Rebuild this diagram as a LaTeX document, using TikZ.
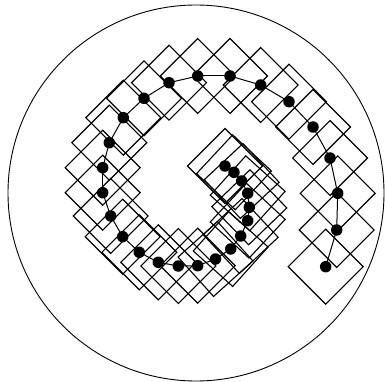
\documentclass[tikz,border=0pt]{standalone}
\begin{document}
\begin{tikzpicture}[x=1pt,y=-1pt,
  sq/.style={draw, line width=1.1pt, minimum size=53pt, inner sep=0pt},
  dot/.style={circle, fill=black, minimum size=11.5pt, inner sep=0pt},
  link/.style={line width=1pt},
  ring/.style={draw, circle, minimum size=376pt, inner sep=0pt, line width=0.9pt}]
\useasboundingbox (0,0) rectangle (385,382);
\node[ring] (ring) at (196,193) {};
\foreach \i/\x/\y in {1/325.7/266.7, 2/336.7/230, 3/337.7/193.3, 4/330/158, 5/313/127,
  6/289/101.7, 7/260.7/85, 8/230/76, 9/197.7/76, 10/169/82.7,
  11/144/98.3, 12/123.3/117.7, 13/109.3/142.7, 14/102.7/167.7, 15/102.7/192.7,
  16/110.7/216, 17/122.7/236.7, 18/139.3/252.3, 19/158.3/262.3, 20/178.3/266,
  21/197.7/265.7, 22/215.5/259, 23/230.7/249, 24/240.7/236, 25/247.7/220.7,
  26/249.3/207.3, 27/247.7/193.3, 28/241.7/181, 29/234/172.3, 30/225/166}
  \coordinate (p\i) at (\x,\y);
\foreach \i/\r in {1/45, 2/45, 3/45, 4/45, 5/45, 6/45, 7/45, 8/45, 9/45, 10/45,
  11/45, 12/45, 13/45, 14/45, 15/45, 16/45, 17/45, 18/45, 19/45, 20/45,
  21/45, 22/42, 23/48, 24/43, 25/47, 26/44, 27/48, 28/43, 29/47, 30/45}
  \node[sq, rotate=\r] (s\i) at (p\i) {};
\foreach \i [count=\j from 2] in {1,...,29}
  \draw[link] (p\i) -- (p\j);
\foreach \i in {1,...,30}
  \node[dot] (d\i) at (p\i) {};
\end{tikzpicture}
\end{document}
